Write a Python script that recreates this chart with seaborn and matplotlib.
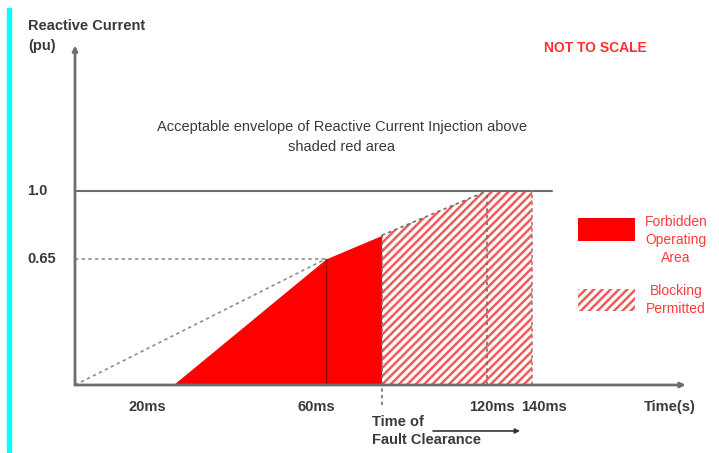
import numpy as np
import pandas as pd
import matplotlib
matplotlib.use("Agg")
import matplotlib.pyplot as plt
from matplotlib.patches import Rectangle
import seaborn as sns

# schematic positions along the time axis (the chart is "not to scale")
time_labels = ["20ms", "60ms", "120ms", "140ms"]
label_pos = [17.2, 57.6, 99.7, 112.1]
ramp_start = 23.4      # forbidden area starts here
t_60 = 60
t_clear = 73.4         # time of fault clearance
t_120 = 98.5
t_140 = 109.3
line_end = 114         # end of the 1.0 pu line
x_end = 146            # end of the time axis
y_top = 1.75           # end of the current axis

level_values = [0.65, 1.0]
level_labels = ["0.65", "1.0"]

# lower edge of the acceptable envelope
edge_x = [ramp_start, t_60, t_120, t_140]
edge_y = [0.0, 0.65, 1.0, 1.0]

# dashed reference ramp from the origin
ramp_x = [0, t_60]
ramp_y = [0.0, 0.65]

sns.set_theme(style="white")
plt.rcParams["font.family"] = ["Liberation Sans", "DejaVu Sans"]

fig = plt.figure(figsize=(7.19, 4.53), dpi=100)
ax = fig.add_axes([0, 0, 1, 1])
ax.set_xlim(-17.93, 153.96)
ax.set_ylim(-0.3505, 1.9845)
ax.axis("off")

grey = "#6e6e6e"
dot = (0, (2, 2))
red = "#ff0000"
hatch_red = "#f25a5a"
txt = "#3a3a3a"
fs = 10.5

# cyan bar at the left edge
fig.patches.append(Rectangle((7 / 719, 1 - 452 / 453), 4 / 719, 444 / 453,
                             transform=fig.transFigure, color="#00ffff", zorder=0))

# forbidden area (solid red)
fx = np.array([ramp_start, t_60, t_clear])
ax.fill_between(fx, 0, np.interp(fx, edge_x, edge_y), color=red, lw=0, zorder=2)

# blocking permitted (hatched)
plt.rcParams["hatch.linewidth"] = 1.8
bx = np.array([t_clear, t_120, t_140])
ax.fill_between(bx, 0, np.interp(bx, edge_x, edge_y), facecolor="white",
                edgecolor=hatch_red, hatch="////", lw=0, zorder=2)

# 1.0 pu line and 0.65 pu dashed level
ax.plot([0, line_end], [1.0, 1.0], color=grey, lw=1.5, zorder=3)
ax.plot([0, t_60], [0.65, 0.65], color="#8c8c8c", lw=1.2, ls=dot, zorder=3)

# dashed ramp from the origin
ramp = pd.DataFrame({"t": ramp_x, "i": ramp_y})
sns.lineplot(data=ramp, x="t", y="i", ax=ax, color="#8c8c8c", lw=1.2,
             linestyle=dot, zorder=3)

# envelope boundary over the hatched area
top_x = [t_clear, t_120]
top_y = list(np.interp(top_x, edge_x, edge_y))
ax.plot(top_x, top_y, color=grey, lw=1.2, ls=dot, zorder=4)

# vertical markers
ax.plot([t_60, t_60], [0, 0.65], color="#a00000", lw=1.0, zorder=4)
ax.plot([t_clear, t_clear], [-0.105, top_y[0]], color=grey, lw=1.2, ls=dot, zorder=4)
ax.plot([t_120, t_120], [0, 1.0], color=grey, lw=1.2, ls=dot, zorder=4)
ax.plot([t_140, t_140], [0, 1.0], color="#a08080", lw=1.2, ls=dot, zorder=4)

# axes with arrow heads
arrow = dict(arrowstyle="-|>", color=grey, lw=2, mutation_scale=7, shrinkA=0, shrinkB=0)
ax.annotate("", xy=(x_end, 0), xytext=(0, 0), arrowprops=arrow, zorder=5)
ax.annotate("", xy=(0, y_top), xytext=(0, 0), arrowprops=arrow, zorder=5)

# level labels
lbl_x = 27 / 719
for v, s in zip(level_values, level_labels):
    ax.text(lbl_x, v, s, transform=ax.get_yaxis_transform(), ha="left", va="center",
            fontsize=fs, fontweight="bold", color=txt)

# time labels
for p, s in zip(label_pos, time_labels):
    ax.text(p, -0.115, s, ha="center", va="center", fontsize=fs,
            fontweight="bold", color=txt)
ax.text(142.2, -0.115, "Time(s)", ha="center", va="center", fontsize=fs,
        fontweight="bold", color=txt)

ax.text(t_clear - 2.4, -0.237, "Time of\nFault Clearance", ha="left", va="center",
        fontsize=fs, fontweight="bold", color=txt, linespacing=1.3)
ax.annotate("", xy=(t_clear + 33, -0.237), xytext=(t_clear + 12.2, -0.237),
            arrowprops=dict(arrowstyle="-|>", color="#333333", lw=1.2,
                            mutation_scale=7, shrinkA=0, shrinkB=0))

# titles and notes
ax.text(28 / 719, 1 - 26 / 453, "Reactive Current", transform=ax.transAxes,
        ha="left", va="center", fontsize=fs, fontweight="bold", color=txt)
ax.text(28 / 719, 1 - 46 / 453, "(pu)", transform=ax.transAxes,
        ha="left", va="center", fontsize=fs, fontweight="bold", color=txt)
ax.text(595 / 719, 1 - 48 / 453, "NOT TO SCALE", transform=ax.transAxes,
        ha="center", va="center", fontsize=10, fontweight="bold", color="#ff3030")
ax.text(342 / 719, 1 - 137 / 453,
        "Acceptable envelope of Reactive Current Injection above\nshaded red area",
        transform=ax.transAxes, ha="center", va="center", fontsize=10.5,
        color=txt, linespacing=1.5)

# legend
ax.add_patch(Rectangle((578 / 719, 1 - 241 / 453), 57 / 719, 23 / 453,
                       transform=ax.transAxes, facecolor=red, lw=0, zorder=5))
ax.add_patch(Rectangle((578 / 719, 1 - 311 / 453), 57 / 719, 22 / 453,
                       transform=ax.transAxes, facecolor="white", edgecolor=hatch_red,
                       hatch="////", lw=0, zorder=5))
ax.text(676 / 719, 1 - 240 / 453, "Forbidden\nOperating\nArea", transform=ax.transAxes,
        ha="center", va="center", fontsize=10, color="#ff3b3b", linespacing=1.35)
ax.text(676 / 719, 1 - 300 / 453, "Blocking\nPermitted", transform=ax.transAxes,
        ha="center", va="center", fontsize=10, color="#ff3b3b", linespacing=1.35)

fig.savefig("out.png", dpi=100, facecolor="white")
